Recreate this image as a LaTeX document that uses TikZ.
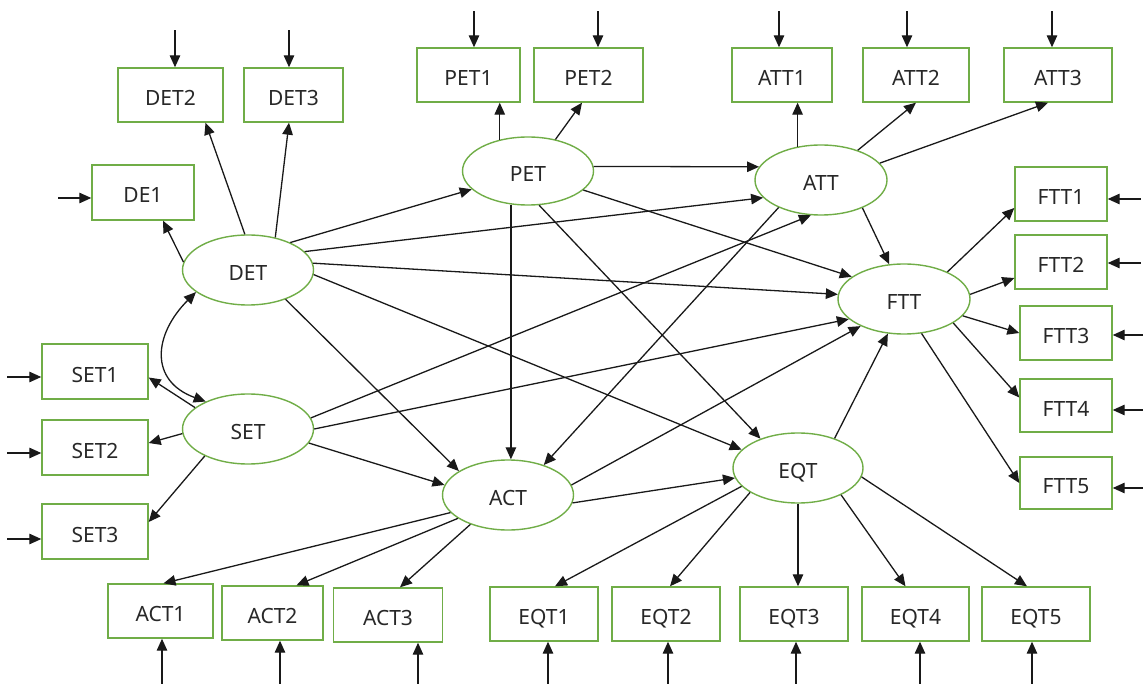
\documentclass[tikz,border=0pt]{standalone}
\usepackage{fontspec}
\setmainfont{Noto Sans}
\usetikzlibrary{arrows.meta,shapes.geometric}
\definecolor{boxgreen}{RGB}{112,173,71}
\definecolor{txt}{RGB}{40,40,40}
\begin{document}
\begin{tikzpicture}[x=1pt,y=-1pt,
  lbl/.style={text=txt,font=\fontsize{21}{21}\selectfont,text height=21pt,text depth=0pt},
  obs/.style={lbl,draw=boxgreen,line width=1.4pt,rectangle,inner sep=0pt,minimum height=54pt},
  lat/.style={lbl,draw=boxgreen,line width=1.4pt,ellipse,inner sep=0pt,minimum width=131pt,minimum height=70pt},
  arr/.style={-{Triangle[length=12pt,width=10.5pt]},line width=1.3pt,black!90},
  dbl/.style={{Triangle[length=12pt,width=10.5pt]}-{Triangle[length=12pt,width=10.5pt]},line width=1.3pt,black!90}
]
\useasboundingbox (0,0) rectangle (1143,684);

% latent variables
\node[lat] (DET) at (248,270) {DET};
\node[lat,minimum height=68pt] (PET) at (528,171) {PET};
\node[lat,minimum width=132pt] (ATT) at (821,180) {ATT};
\node[lat,minimum width=132pt] (FTT) at (904,299) {FTT};
\node[lat] (SET) at (248,429) {SET};
\node[lat] (ACT) at (508,495) {ACT};
\node[lat,minimum width=130pt] (EQT) at (798,468) {EQT};

% observed variables
\node[obs,minimum width=105pt] (DET2) at (170.5,95) {DET2};
\node[obs,minimum width=99pt] (DET3) at (293.5,95) {DET3};
\node[obs,minimum width=102pt,minimum height=55pt] (DE1) at (143,192.5) {DE1};
\node[obs,minimum width=103pt] (PET1) at (468.5,75) {PET1};
\node[obs,minimum width=109pt] (PET2) at (588.5,75) {PET2};
\node[obs,minimum width=100pt] (ATT1) at (782,75) {ATT1};
\node[obs,minimum width=106pt] (ATT2) at (916,75) {ATT2};
\node[obs,minimum width=108pt] (ATT3) at (1058,75) {ATT3};
\node[obs,minimum width=92pt] (FTT1) at (1061,194) {FTT1};
\node[obs,minimum width=92pt] (FTT2) at (1061,262) {FTT2};
\node[obs,minimum width=92pt] (FTT3) at (1066,333) {FTT3};
\node[obs,minimum width=92pt,minimum height=53pt] (FTT4) at (1066,405.5) {FTT4};
\node[obs,minimum width=92pt,minimum height=52pt] (FTT5) at (1066,483) {FTT5};
\node[obs,minimum width=106pt,minimum height=55pt] (SET1) at (95,371.5) {SET1};
\node[obs,minimum width=106pt,minimum height=55pt] (SET2) at (95,447.5) {SET2};
\node[obs,minimum width=106pt,minimum height=55pt] (SET3) at (95,531.5) {SET3};
\node[obs,minimum width=105pt] (ACT1) at (160.5,611) {ACT1};
\node[obs,minimum width=101pt] (ACT2) at (272.5,613) {ACT2};
\node[obs,minimum width=109pt] (ACT3) at (388,615) {ACT3};
\node[obs,minimum width=108pt] (EQT1) at (544,614) {EQT1};
\node[obs,minimum width=108pt] (EQT2) at (666,614) {EQT2};
\node[obs,minimum width=108pt] (EQT3) at (794,614) {EQT3};
\node[obs,minimum width=107pt] (EQT4) at (915.5,614) {EQT4};
\node[obs,minimum width=108pt] (EQT5) at (1036,614) {EQT5};

% DET
\draw[arr] (DET.173) -- ([xshift=20pt]DE1.south);
\draw[arr] (DET.95) -- ([xshift=35pt]DET2.south);
\draw[arr] (DET.50) -- ([xshift=-4.5pt]DET3.south);
\draw[arr] (DET.33) -- (PET.198);
\draw[arr] (DET.18) -- (ATT.197);
\draw[arr] (DET.6) -- (FTT.176);
\draw[arr] (DET.-4) -- (EQT.162);
\draw[arr] (DET.-38) -- (ACT.154);
\draw[dbl] (DET.203) to[out=225,in=160,looseness=1.4] (SET.147);

% SET
\draw[arr] (SET.158) -- ([yshift=-6pt]SET1.east);
\draw[arr] (SET.184) -- ([yshift=4.5pt]SET2.east);
\draw[arr] (SET.212) -- ([yshift=9.5pt]SET3.east);
\draw[arr] (SET.10) -- (ATT.254);
\draw[arr] (SET.0) -- (FTT.200);
\draw[arr] (SET.-13) -- (ACT.171);

% PET
\draw[arr] (PET.132) -- (PET.132 |- PET1.south);
\draw[arr] (PET.49) -- ([xshift=-6.5pt]PET2.south);
\draw[arr] (PET.4) -- (ATT.168);
\draw[arr] (PET.-19) -- (FTT.157);
\draw[arr] (PET.-117) -- (PET.-117 |- ACT.north);
\draw[arr] (PET.-72) -- (EQT.142);

% ATT
\draw[arr] (ATT.125) -- (ATT.125 |- ATT1.south);
\draw[arr] (ATT.39) -- (ATT2.south);
\draw[arr] (ATT.16) -- ([xshift=-10pt]ATT3.south);
\draw[arr] (ATT.-34) -- (FTT.113);
\draw[arr] (ATT.213) -- (ACT.40);

% FTT
\draw[arr] (FTT.32) -- ([yshift=-14pt]FTT1.west);
\draw[arr] (FTT.4) -- ([yshift=-16pt]FTT2.west);
\draw[arr] (FTT.-16) -- (FTT3.west);
\draw[arr] (FTT.-26) -- ([yshift=8pt]FTT4.west);
\draw[arr] (FTT.-63) -- (FTT5.west);

% ACT
\draw[arr] (ACT.9) -- (FTT.212);
\draw[arr] (ACT.-7) -- (EQT.189);
\draw[arr] (ACT.197) -- ([xshift=3pt]ACT1.north);
\draw[arr] (ACT.205) -- ([xshift=24pt]ACT2.north);
\draw[arr] (ACT.218) -- ([xshift=12pt]ACT3.north);

% EQT
\draw[arr] (EQT.39) -- (FTT.245);
\draw[arr] (EQT.198) -- ([xshift=11pt]EQT1.north);
\draw[arr] (EQT.207) -- ([xshift=4pt]EQT2.north);
\draw[arr] (EQT.south) -- (EQT.south |- EQT3.north);
\draw[arr] (EQT.-32) -- ([xshift=-10pt]EQT4.north);
\draw[arr] (EQT.-8) -- ([xshift=-9pt]EQT5.north);

% error terms
\draw[arr] ([xshift=4.5pt,yshift=37pt]DET2.north) -- ([xshift=4.5pt]DET2.north);
\draw[arr] ([xshift=-4.5pt,yshift=37pt]DET3.north) -- ([xshift=-4.5pt]DET3.north);
\draw[arr] ([xshift=-33pt,yshift=-5.5pt]DE1.west) -- ([yshift=-5.5pt]DE1.west);
\draw[arr] ([xshift=5.5pt,yshift=36pt]PET1.north) -- ([xshift=5.5pt]PET1.north);
\draw[arr] ([xshift=9.5pt,yshift=36pt]PET2.north) -- ([xshift=9.5pt]PET2.north);
\draw[arr] ([xshift=-3pt,yshift=36pt]ATT1.north) -- ([xshift=-3pt]ATT1.north);
\draw[arr] ([xshift=-9pt,yshift=36pt]ATT2.north) -- ([xshift=-9pt]ATT2.north);
\draw[arr] ([xshift=-6pt,yshift=36pt]ATT3.north) -- ([xshift=-6pt]ATT3.north);
\draw[arr] ([xshift=33pt,yshift=-5pt]FTT1.east) -- ([yshift=-5pt]FTT1.east);
\draw[arr] ([xshift=33pt,yshift=-1pt]FTT2.east) -- ([yshift=-1pt]FTT2.east);
\draw[arr] ([xshift=31pt,yshift=-2pt]FTT3.east) -- ([yshift=-2pt]FTT3.east);
\draw[arr] ([xshift=31pt,yshift=-4.5pt]FTT4.east) -- ([yshift=-4.5pt]FTT4.east);
\draw[arr] ([xshift=31pt,yshift=-5pt]FTT5.east) -- ([yshift=-5pt]FTT5.east);
\draw[arr] ([xshift=-34pt,yshift=-5.5pt]SET1.west) -- ([yshift=-5.5pt]SET1.west);
\draw[arr] ([xshift=-34pt,yshift=-5.5pt]SET2.west) -- ([yshift=-5.5pt]SET2.west);
\draw[arr] ([xshift=-34pt,yshift=-7.5pt]SET3.west) -- ([yshift=-7.5pt]SET3.west);
\draw[arr] ([xshift=1.5pt,yshift=-46pt]ACT1.south) -- ([xshift=1.5pt]ACT1.south);
\draw[arr] ([xshift=7.5pt,yshift=-44pt]ACT2.south) -- ([xshift=7.5pt]ACT2.south);
\draw[arr] ([xshift=30pt,yshift=-42pt]ACT3.south) -- ([xshift=30pt]ACT3.south);
\draw[arr] ([xshift=4pt,yshift=-43pt]EQT1.south) -- ([xshift=4pt]EQT1.south);
\draw[arr] ([xshift=2pt,yshift=-43pt]EQT2.south) -- ([xshift=2pt]EQT2.south);
\draw[arr] ([xshift=2pt,yshift=-43pt]EQT3.south) -- ([xshift=2pt]EQT3.south);
\draw[arr] ([xshift=4.5pt,yshift=-43pt]EQT4.south) -- ([xshift=4.5pt]EQT4.south);
\draw[arr] ([xshift=-4pt,yshift=-43pt]EQT5.south) -- ([xshift=-4pt]EQT5.south);
\end{tikzpicture}
\end{document}
